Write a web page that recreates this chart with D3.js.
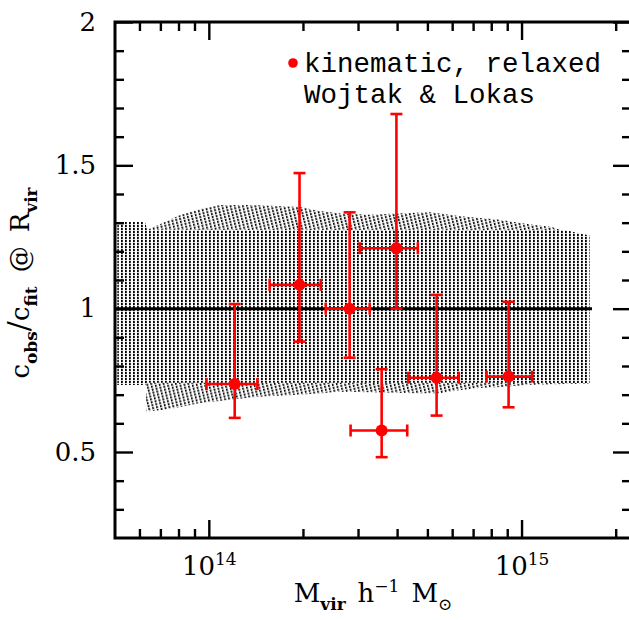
<!DOCTYPE html>
<html><head><meta charset="utf-8">
<script src="https://cdn.jsdelivr.net/npm/d3@7"></script>
<style>body{margin:0;background:#fff} svg{display:block}</style>
</head><body><svg id="c" width="629" height="620"></svg>
<script>
// ---- data ----
const mass    = [1.21e14, 1.95e14, 2.82e14, 3.98e14, 3.57e14, 5.35e14, 9.09e14];
const massLo  = [9.83e13, 1.565e14, 2.365e14, 3.04e14, 2.84e14, 4.345e14, 7.73e14];
const massHi  = [1.43e14, 2.28e14, 3.27e14, 4.66e14, 4.31e14, 6.30e14, 1.082e15];
const ratio   = [0.737, 1.083, 1.0, 1.211, 0.575, 0.759, 0.763];
const ratioLo = [0.619, 0.885, 0.829, 1.0, 0.482, 0.627, 0.656];
const ratioHi = [1.016, 1.473, 1.336, 1.679, 0.789, 1.048, 1.024];

// vertical-hatch simulation band
const bandAUpMass = [5.1e13, 6.25e13, 6.35e13, 1.40e15, 1.50e15, 1.65e15];
const bandAUp     = [1.302, 1.302, 1.275, 1.273, 1.265, 1.255];
const bandALoMass = [5.1e13, 6.25e13, 6.35e13, 1.65e15];
const bandALo     = [0.734, 0.734, 0.742, 0.741];

// slanted-hatch simulation band
const bandBUpMass = [6.3e13, 7.0e13, 8.1e13, 9.4e13, 1.08e14, 1.36e14, 1.97e14, 2.23e14, 2.64e14, 3.3e14, 4.1e14, 5.1e14, 6.4e14, 8.4e14, 1.07e15, 1.25e15, 1.36e15, 1.64e15];
const bandBUp     = [1.274, 1.295, 1.327, 1.348, 1.362, 1.362, 1.355, 1.342, 1.332, 1.328, 1.333, 1.336, 1.322, 1.311, 1.294, 1.285, 1.272, 1.253];
const bandBLoMass = [6.3e13, 7.2e13, 8.2e13, 9.3e13, 1.45e14, 2.0e14, 2.3e14, 2.6e14, 3.3e14, 4.6e14, 5.5e14, 6.3e14, 7.3e14, 9.0e14, 1.07e15, 1.64e15];
const bandBLo     = [0.641, 0.647, 0.658, 0.670, 0.693, 0.701, 0.705, 0.710, 0.708, 0.705, 0.705, 0.715, 0.723, 0.728, 0.735, 0.739];

const refMass = [10**13.7, 1.68e15];
const refVal  = [1, 1];

const xMajor = [1e14, 1e15];
const xMajorExp = ["14", "15"];
const xMinor = [6e13, 7e13, 8e13, 9e13, 2e14, 3e14, 4e14, 5e14, 6e14, 7e14, 8e14, 9e14, 2e15];
const yMajor = [0.5, 1, 1.5, 2];
const yMinor = [0.3, 0.4, 0.6, 0.7, 0.8, 0.9, 1.1, 1.2, 1.3, 1.4, 1.6, 1.7, 1.8, 1.9];

const legendLines = ["kinematic, relaxed", "Wojtak & Lokas"];

// ---- layout ----
const L = 115, R = 631, T = 22, B = 538;
const svg = d3.select("#c");
svg.append("rect").attr("width", 629).attr("height", 620).attr("fill", "#fff");

const x = d3.scaleLog().domain([10 ** 13.7, 10 ** 15.35]).range([L, R]);
const y = d3.scaleLinear().domain([0.2, 2]).range([B, T]);

const defs = svg.append("defs");
const pA = defs.append("pattern").attr("id", "hatchA").attr("patternUnits", "userSpaceOnUse")
  .attr("width", 4).attr("height", 3);
pA.append("rect").attr("x", 1).attr("y", 0).attr("width", 1.8).attr("height", 2.2).attr("fill", "#000");
const pB = defs.append("pattern").attr("id", "hatchB").attr("patternUnits", "userSpaceOnUse")
  .attr("width", 4).attr("height", 3).attr("patternTransform", "rotate(-14)");
pB.append("rect").attr("x", 1).attr("y", 0).attr("width", 1.6).attr("height", 2.2).attr("fill", "#000");
defs.append("clipPath").attr("id", "plotclip").append("rect")
  .attr("x", L).attr("y", T).attr("width", R - L).attr("height", B - T);

const plot = svg.append("g").attr("clip-path", "url(#plotclip)");
const poly = d3.line().x(d => x(d[0])).y(d => y(d[1]));
function bandPath(um, u, lm, l) {
  const up = d3.zip(um, u);
  const lo = d3.zip(lm, l).reverse();
  return poly(up.concat(lo)) + "Z";
}
const pathA = bandPath(bandAUpMass, bandAUp, bandALoMass, bandALo);
plot.append("path").attr("d", bandPath(bandBUpMass, bandBUp, bandBLoMass, bandBLo)).attr("fill", "url(#hatchB)");
plot.append("path").attr("d", pathA).attr("fill", "#fff");
plot.append("path").attr("d", pathA).attr("fill", "url(#hatchA)");

plot.append("path").attr("d", poly(d3.zip(refMass, refVal)))
  .attr("stroke", "#000").attr("stroke-width", 3).attr("fill", "none");

// ---- error bars ----
const pts = mass.map((m, i) => ({m, lo: massLo[i], hi: massHi[i], r: ratio[i], rlo: ratioLo[i], rhi: ratioHi[i]}));
const eg = plot.append("g").attr("stroke", "#ff0000").attr("stroke-width", 2.6).attr("fill", "none");
const cap = 6;
pts.forEach(p => {
  const cx = x(p.m), cy = y(p.r);
  eg.append("line").attr("x1", x(p.lo)).attr("x2", x(p.hi)).attr("y1", cy).attr("y2", cy);
  eg.append("line").attr("x1", cx).attr("x2", cx).attr("y1", y(p.rlo)).attr("y2", y(p.rhi));
  eg.append("line").attr("x1", x(p.lo)).attr("x2", x(p.lo)).attr("y1", cy - cap).attr("y2", cy + cap);
  eg.append("line").attr("x1", x(p.hi)).attr("x2", x(p.hi)).attr("y1", cy - cap).attr("y2", cy + cap);
  eg.append("line").attr("x1", cx - cap).attr("x2", cx + cap).attr("y1", y(p.rlo)).attr("y2", y(p.rlo));
  eg.append("line").attr("x1", cx - cap).attr("x2", cx + cap).attr("y1", y(p.rhi)).attr("y2", y(p.rhi));
});
plot.append("g").selectAll("circle").data(pts).join("circle")
  .attr("cx", d => x(d.m)).attr("cy", d => y(d.r)).attr("r", 6).attr("fill", "#ff0000");

// ---- axes ----
function styleAxis(g) {
  g.select(".domain").remove();
  g.selectAll(".tick line").attr("stroke", "#000").attr("stroke-width", 2.4);
}
const tickFont = "DejaVu Serif";
// bottom
svg.append("g").attr("transform", `translate(0,${B})`)
  .call(d3.axisBottom(x).tickValues(xMinor).tickSize(-9).tickFormat(""))
  .call(styleAxis);
const xb = svg.append("g").attr("transform", `translate(0,${B})`)
  .call(d3.axisBottom(x).tickValues(xMajor).tickSize(-18).tickFormat(""))
  .call(styleAxis);
xb.selectAll(".tick").each(function (d, i) {
  const t = d3.select(this).append("text").attr("y", 37).attr("text-anchor", "middle")
    .attr("fill", "#000").attr("font-family", tickFont).attr("font-size", 26);
  t.append("tspan").text("10");
  t.append("tspan").attr("font-size", 17).attr("dy", -10).text(xMajorExp[i]);
});
// top
svg.append("g").attr("transform", `translate(0,${T})`)
  .call(d3.axisTop(x).tickValues(xMinor).tickSize(-9).tickFormat(""))
  .call(styleAxis);
svg.append("g").attr("transform", `translate(0,${T})`)
  .call(d3.axisTop(x).tickValues(xMajor).tickSize(-18).tickFormat(""))
  .call(styleAxis);
// left
svg.append("g").attr("transform", `translate(${L},0)`)
  .call(d3.axisLeft(y).tickValues(yMinor).tickSize(-9).tickFormat(""))
  .call(styleAxis);
svg.append("g").attr("transform", `translate(${L},0)`)
  .call(d3.axisLeft(y).tickValues(yMajor).tickSize(-18).tickPadding(19).tickFormat(d => String(d)))
  .call(styleAxis)
  .call(g => g.selectAll("text").attr("fill", "#000").attr("font-family", tickFont).attr("font-size", 26));
// right
svg.append("g").attr("transform", `translate(${R},0)`)
  .call(d3.axisRight(y).tickValues(yMinor).tickSize(-9).tickFormat(""))
  .call(styleAxis);
svg.append("g").attr("transform", `translate(${R},0)`)
  .call(d3.axisRight(y).tickValues(yMajor).tickSize(-18).tickFormat(""))
  .call(styleAxis);

// frame
svg.append("rect").attr("x", L).attr("y", T).attr("width", R - L).attr("height", B - T)
  .attr("fill", "none").attr("stroke", "#000").attr("stroke-width", 3);

// ---- axis titles ----
const xt = svg.append("text").attr("x", 373).attr("y", 602).attr("text-anchor", "middle")
  .attr("font-family", tickFont).attr("font-size", 26).attr("fill", "#000");
xt.append("tspan").text("M");
xt.append("tspan").attr("font-size", 17).attr("font-weight", "bold").attr("dy", 8).text("vir");
xt.append("tspan").attr("dy", -8).attr("dx", 12).text("h");
xt.append("tspan").attr("font-size", 17).attr("dy", -10).text("−1");
xt.append("tspan").attr("dy", 10).attr("dx", 12).text("M");
xt.append("tspan").attr("font-size", 17).attr("dy", 8).text("⊙");

const yt = svg.append("text").attr("transform", "translate(29,283) rotate(-90)").attr("text-anchor", "middle")
  .attr("font-family", tickFont).attr("font-size", 26).attr("fill", "#000");
yt.append("tspan").text("c");
yt.append("tspan").attr("font-size", 17).attr("font-weight", "bold").attr("dy", 8).text("obs");
yt.append("tspan").attr("dy", -8).attr("font-size", 30).text("/");
yt.append("tspan").text("c");
yt.append("tspan").attr("font-size", 17).attr("font-weight", "bold").attr("dy", 8).text("fit");
yt.append("tspan").attr("dy", -8).attr("dx", 14).text("@");
yt.append("tspan").attr("dx", 14).text("R");
yt.append("tspan").attr("font-size", 17).attr("font-weight", "bold").attr("dy", 8).text("vir");

// ---- legend ----
svg.append("circle").attr("cx", 293).attr("cy", 63).attr("r", 4.8).attr("fill", "#ff0000");
svg.append("g").selectAll("text").data(legendLines).join("text")
  .attr("x", 304).attr("y", (d, i) => 72 + i * 31)
  .attr("font-family", "Liberation Mono").attr("font-size", 27.5).attr("fill", "#000")
  .text(d => d);
</script></body></html>
